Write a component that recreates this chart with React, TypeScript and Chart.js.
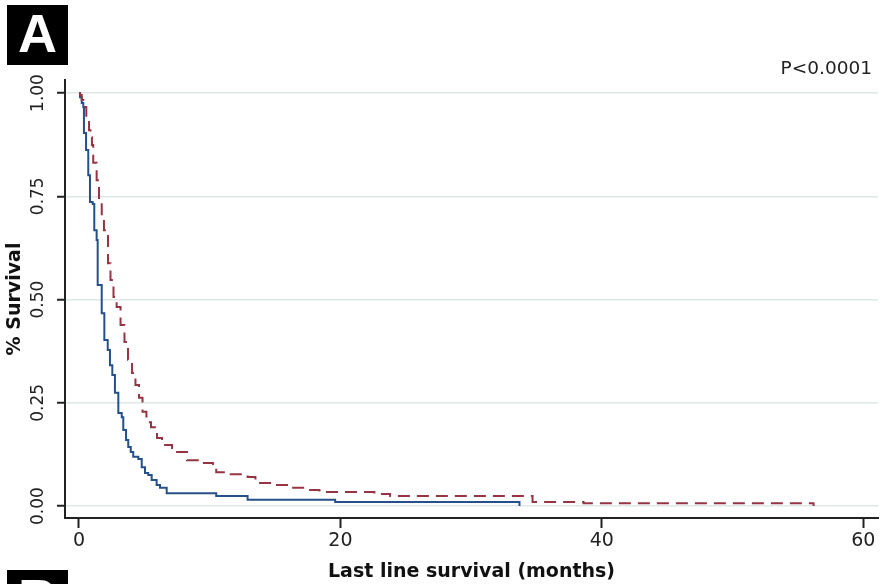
import React, { useEffect, useRef } from "react";
import { Chart, registerables } from "chart.js";

Chart.register(...registerables);

// Axis ticks
const xTicks = [0, 20, 40, 60];
const yTicks = [0, 0.25, 0.5, 0.75, 1.0];

// Kaplan-Meier step points (months, survival) — blue solid group
const blueX = [0, 0.08, 0.21, 0.33, 0.38, 0.54, 0.71, 0.84, 1.05, 1.17, 1.35, 1.43, 1.74, 1.94, 2.2, 2.37, 2.55, 2.75, 3.01, 3.27, 3.39, 3.6, 3.77, 3.96, 4.15, 4.54, 4.8, 5.05, 5.3, 5.56, 5.94, 6.2, 6.71, 10.5, 12.9, 19.6, 33.7];
const blueY = [1.0, 0.99, 0.976, 0.966, 0.903, 0.862, 0.801, 0.736, 0.731, 0.668, 0.644, 0.535, 0.467, 0.402, 0.378, 0.341, 0.317, 0.274, 0.225, 0.215, 0.184, 0.16, 0.143, 0.131, 0.119, 0.114, 0.094, 0.08, 0.075, 0.063, 0.051, 0.044, 0.031, 0.024, 0.015, 0.01, 0.0];

// Red dashed group
const redX = [0, 0.08, 0.21, 0.33, 0.46, 0.56, 0.77, 0.88, 0.99, 1.09, 1.35, 1.53, 1.74, 1.91, 2.22, 2.41, 2.64, 2.88, 3.18, 3.48, 3.75, 4.06, 4.32, 4.59, 4.86, 5.16, 5.51, 5.97, 6.35, 7.12, 8.26, 9.26, 10.25, 10.5, 11.6, 12.9, 13.5, 15.0, 16.0, 17.3, 18.4, 22.6, 23.8, 34.7, 38.6, 56.2];
const redY = [1.0, 0.995, 0.983, 0.971, 0.966, 0.942, 0.91, 0.893, 0.874, 0.831, 0.789, 0.746, 0.7, 0.668, 0.588, 0.547, 0.506, 0.482, 0.438, 0.397, 0.354, 0.322, 0.293, 0.262, 0.228, 0.203, 0.191, 0.165, 0.148, 0.131, 0.111, 0.104, 0.094, 0.082, 0.077, 0.07, 0.056, 0.051, 0.044, 0.039, 0.034, 0.029, 0.024, 0.01, 0.007, 0.0];

const pValueText = "P<0.0001";
const xTitle = "Last line survival (months)";
const yTitle = "% Survival";

const FONT = "'DejaVu Sans', sans-serif";

export default function App() {
  const ref = useRef<HTMLCanvasElement | null>(null);

  useEffect(() => {
    document.body.style.margin = "0";
    const canvas = ref.current;
    if (!canvas) return;

    const overlay = {
      id: "overlay",
      afterDraw(chart: any) {
        const ctx = chart.ctx as CanvasRenderingContext2D;
        const yScale = chart.scales.y;
        ctx.save();
        // y tick labels (rotated)
        ctx.fillStyle = "#222";
        ctx.font = `17px ${FONT}`;
        ctx.textAlign = "center";
        ctx.textBaseline = "middle";
        for (const v of yTicks) {
          const py = yScale.getPixelForValue(v);
          ctx.save();
          ctx.translate(39, py);
          ctx.rotate(-Math.PI / 2);
          ctx.fillText(v.toFixed(2), 0, 0);
          ctx.restore();
        }
        // P-value
        ctx.font = `18.5px ${FONT}`;
        ctx.textAlign = "right";
        ctx.textBaseline = "alphabetic";
        ctx.fillStyle = "#222";
        ctx.fillText(pValueText, 872, 74);
        // Panel letters
        ctx.fillStyle = "#000";
        ctx.fillRect(7, 5, 61, 60);
        ctx.fillRect(7, 570, 61, 60);
        ctx.fillStyle = "#fff";
        ctx.font = "bold 54px 'Liberation Sans', Arial, sans-serif";
        ctx.textAlign = "center";
        ctx.fillText("A", 37.5, 52);
        ctx.fillText("B", 37.5, 617);
        ctx.restore();
      },
    };

    const chart = new Chart(canvas, {
      type: "line",
      data: {
        datasets: [
          {
            label: "red",
            data: redX.map((x, i) => ({ x, y: redY[i] })),
            borderColor: "rgb(150,52,68)",
            borderWidth: 2,
            borderDash: [12, 7],
            stepped: "before",
            pointRadius: 0,
            fill: false,
          },
          {
            label: "blue",
            data: blueX.map((x, i) => ({ x, y: blueY[i] })),
            borderColor: "rgb(38,80,138)",
            borderWidth: 2,
            stepped: "before",
            pointRadius: 0,
            fill: false,
          },
        ],
      },
      options: {
        responsive: false,
        animation: false,
        devicePixelRatio: 1,
        layout: { padding: { top: 80, right: 6, left: 0, bottom: 0 } },
        plugins: { legend: { display: false }, tooltip: { enabled: false } },
        scales: {
          x: {
            type: "linear",
            min: -1.07,
            max: 61.13,
            afterBuildTicks: (s: any) => {
              s.ticks = xTicks.map((v) => ({ value: v }));
            },
            afterFit: (s: any) => {
              s.height = 66;
            },
            grid: {
              drawOnChartArea: false,
              drawTicks: true,
              tickLength: 10,
              tickColor: "#222",
              tickWidth: 2,
            },
            border: { display: true, color: "#222", width: 2 },
            ticks: {
              font: { family: FONT, size: 19 },
              color: "#222",
              padding: 2,
              maxRotation: 0,
              callback: (v: any) => String(v),
            },
            title: {
              display: true,
              text: xTitle,
              font: { family: FONT, size: 19, weight: "bold" },
              color: "#111",
              padding: { top: 0, bottom: 1 },
            },
          },
          y: {
            type: "linear",
            min: -0.029,
            max: 1.0315,
            afterBuildTicks: (s: any) => {
              s.ticks = yTicks.map((v) => ({ value: v }));
            },
            afterFit: (s: any) => {
              s.width = 65;
            },
            grid: {
              color: "#dde9e8",
              lineWidth: 1.5,
              drawTicks: true,
              tickLength: 8,
              tickColor: "#222",
              tickWidth: 2,
            },
            border: { display: true, color: "#222", width: 2 },
            ticks: { display: false },
            title: {
              display: true,
              text: yTitle,
              font: { family: FONT, size: 19, weight: "bold" },
              color: "#111",
              padding: { top: 4, bottom: 0 },
            },
          },
        },
      },
      plugins: [overlay],
    } as any);

    return () => chart.destroy();
  }, []);

  return (
    <div style={{ width: 884, height: 584, background: "#fff" }}>
      <canvas ref={ref} width={884} height={584} style={{ display: "block" }} />
    </div>
  );
}
